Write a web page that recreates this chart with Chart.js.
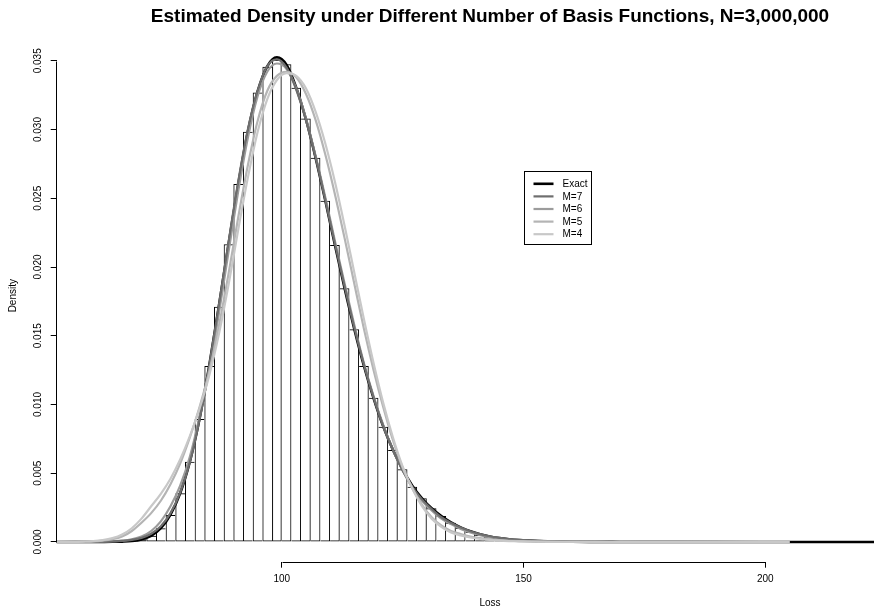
<!DOCTYPE html>
<html><head><meta charset="utf-8">
<script src="https://cdn.jsdelivr.net/npm/chart.js@4/dist/chart.umd.min.js"></script>
<style>html,body{margin:0;padding:0;background:#fff;} #wrap{width:874px;height:610px;}</style>
</head><body><div id="wrap"><canvas id="c" width="874" height="610"></canvas></div>
<script>
// ---------- data ----------
const chartTitle = 'Estimated Density under Different Number of Basis Functions, N=3,000,000';
const xTitle = 'Loss';
const yTitle = 'Density';
const xTickValues = [100, 150, 200];
const yTickValues = [0, 0.005, 0.010, 0.015, 0.020, 0.025, 0.030, 0.035];
const seriesNames = ['Exact', 'M=7', 'M=6', 'M=5', 'M=4'];

// histogram (bin width 2) : bin centres and density heights
const binCenters = [61,63,65,67,69,71,73,75,77,79,81,83,85,87,89,91,93,95,97,99,
  101,103,105,107,109,111,113,115,117,119,121,123,125,127,129,131,133,135,137,139,
  141,143,145,147,149,151,153,155,157,159,161,163,165,167,169];
const binDensity = [0.000002,0.000005,0.00001,0.00002,0.00007,0.0002,0.00045,0.00100,0.00196,0.00354,
  0.00584,0.00894,0.01280,0.01711,0.02165,0.02603,0.02984,0.03270,0.03457,0.03505,
  0.03475,0.03304,0.03081,0.02795,0.02482,0.02160,0.01845,0.01547,0.01280,0.01049,
  0.00838,0.00669,0.00529,0.00402,0.00318,0.00245,0.00189,0.00140,0.00104,0.00075,
  0.00051,0.00034,0.00022,0.00015,0.00010,0.00007,0.00005,0.00004,0.00003,0.00002,
  0.000015,0.00001,0.000008,0.000006,0.000004];

// density curves evaluated on a common loss grid
const lossGrid = [53,55,57,59,61,63,65,67,69,71,73,75,77,79,81,83,85,87,89,91,
  93,95,97,99,101,103,105,107,109,111,113,115,117,119,121,123,125,127,129,131,
  133,135,137,139,141,143,145,147,149,151,155,160,165,170,175,180,190,200,205,210,215,223];
const exactY = [0,0,0.000001,0.000002,0.000004,0.000008,0.000015,0.00003,0.00007,0.00019,
  0.00045,0.00100,0.00200,0.00355,0.00585,0.00895,0.01280,0.01715,0.02165,0.02600,
  0.02985,0.03275,0.03460,0.03525,0.03470,0.03305,0.03075,0.02795,0.02485,0.02160,
  0.01845,0.01550,0.01280,0.01045,0.00840,0.00670,0.00528,0.00410,0.00318,0.00245,
  0.00188,0.00142,0.00106,0.00078,0.00056,0.00040,0.00028,0.00020,0.00014,0.00010,
  0.00005,0.00002,0.00001,0.000005,0.000003,0.000002,0.000001,0,0,0,0,0];
const m7Y = [0,0.000001,0.000003,0.000006,0.00001,0.00002,0.00004,0.00008,0.00015,0.0003,
  0.0006,0.00115,0.0021,0.0036,0.0058,0.0089,0.0128,0.0172,0.0218,0.0262,
  0.0300,0.0328,0.0346,0.0351,0.0345,0.0329,0.0307,0.0280,0.0249,0.0217,
  0.0186,0.0156,0.0129,0.0105,0.0084,0.0067,0.0052,0.0040,0.0031,0.0024,
  0.0018,0.0014,0.00105,0.00078,0.00057,0.00042,0.0003,0.00022,0.00016,0.00012,
  0.00006,0.00003,0.000015,0.00001,0.000007,0.000005,0.000002,0.000001,0,null,null,null];
const m6Y = [0.000001,0.000002,0.000004,0.000008,0.000015,0.00003,0.00006,0.0001,0.0002,0.0004,
  0.0008,0.0015,0.0026,0.0041,0.0062,0.0091,0.0125,0.0166,0.0211,0.0255,
  0.0294,0.0324,0.0342,0.0348,0.0344,0.0330,0.0308,0.0281,0.0251,0.0219,
  0.0188,0.0158,0.0130,0.0106,0.0085,0.0067,0.0052,0.0040,0.0030,0.0023,
  0.0017,0.0013,0.00095,0.0007,0.0005,0.00036,0.00026,0.00018,0.00013,0.00009,
  0.00004,0.00002,0.00001,0.000006,0.000004,0.000003,0.000001,0,0,null,null,null];
const m5Y = [0.000002,0.000004,0.000008,0.00002,0.00004,0.0001,0.0002,0.0004,0.0008,0.0014,
  0.0021,0.0030,0.0042,0.0057,0.0076,0.0098,0.0124,0.0157,0.0195,0.0236,
  0.0274,0.0306,0.0328,0.0339,0.0342,0.0338,0.0326,0.0307,0.0282,0.0253,
  0.0221,0.0188,0.0155,0.0125,0.0098,0.0074,0.0054,0.0039,0.0027,0.0018,
  0.0012,0.0008,0.00058,0.0004,0.00028,0.00019,0.00013,0.00009,0.00006,0.00004,
  0.00002,0.00001,0.000004,0.000002,0.000001,0,0,0,0,null,null,null];
const m4Y = [0.000003,0.000006,0.00001,0.00003,0.00006,0.00013,0.00028,0.00055,0.0010,0.0017,
  0.0026,0.0035,0.0046,0.0060,0.0077,0.0097,0.0121,0.0151,0.0187,0.0227,
  0.0265,0.0298,0.0322,0.0336,0.0341,0.0339,0.0330,0.0313,0.0290,0.0262,
  0.0230,0.0196,0.0162,0.0130,0.0101,0.0076,0.0055,0.0039,0.0026,0.0017,
  0.0011,0.0007,0.00048,0.00033,0.00022,0.00015,0.0001,0.00007,0.00005,0.00003,
  0.00001,0.000005,0.000002,0.000001,0,0,0,0,0,null,null,null];

// ---------- build chart ----------
const FONT = '"Liberation Sans", Arial, Helvetica, sans-serif';
Chart.defaults.font.family = FONT;
Chart.defaults.color = '#000';

const toPts = arr => lossGrid.map((x, i) => ({x: x, y: arr[i]}));
const curveStyle = [
  {data: exactY, color: '#000000', width: 2.6, order: 6},
  {data: m7Y,    color: '#6e6e6e', width: 2.2, order: 4},
  {data: m6Y,    color: '#9c9c9c', width: 2.2, order: 5},
  {data: m5Y,    color: '#b4b4b4', width: 2.2, order: 3},
  {data: m4Y,    color: '#c8c8c8', width: 2.2, order: 2}
];
const curveSets = curveStyle.map((s, k) => ({
  type: 'line', label: seriesNames[k], data: toPts(s.data),
  borderColor: s.color, backgroundColor: s.color, borderWidth: s.width,
  pointRadius: 0, fill: false, spanGaps: false, cubicInterpolationMode: 'monotone',
  order: s.order
}));

const histSet = {
  type: 'bar', label: 'hist',
  data: binCenters.map((x, i) => ({x: x, y: binDensity[i]})),
  backgroundColor: 'rgba(255,255,255,0)', borderColor: '#000',
  borderSkipped: false, inflateAmount: 0,
  borderWidth: ctx => {
    const i = ctx.dataIndex, h = binDensity;
    const prev = i > 0 ? h[i - 1] : 0, next = i < h.length - 1 ? h[i + 1] : 0;
    return {top: 1, bottom: 1, left: h[i] >= prev ? 1 : 0, right: h[i] > next ? 1 : 0};
  },
  barPercentage: 1, categoryPercentage: 1, order: 10
};

const rStyle = {
  id: 'rStyle',
  afterDraw(chart) {
    const {ctx, scales: {x, y}} = chart;
    ctx.save();
    ctx.strokeStyle = '#000'; ctx.lineWidth = 1;
    // axis lines spanning only the tick range (R style)
    const yb = Math.round(x.top) + 0.5;
    ctx.beginPath();
    ctx.moveTo(Math.round(x.getPixelForValue(xTickValues[0])) + 0.5, yb);
    ctx.lineTo(Math.round(x.getPixelForValue(xTickValues[xTickValues.length - 1])) + 0.5, yb);
    ctx.stroke();
    const xl = Math.round(y.right) - 0.5;
    ctx.beginPath();
    ctx.moveTo(xl, Math.round(y.getPixelForValue(yTickValues[0])) + 0.5);
    ctx.lineTo(xl, Math.round(y.getPixelForValue(yTickValues[yTickValues.length - 1])) + 0.5);
    ctx.stroke();
    // legend box
    const lx = Math.round(x.getPixelForValue(150)) + 0.5;
    const ly = Math.round(y.getPixelForValue(0.027)) + 0.5;
    ctx.strokeRect(lx, ly, 67, 73);
    ctx.font = '10px ' + FONT; ctx.textAlign = 'left'; ctx.textBaseline = 'middle';
    ctx.fillStyle = '#000';
    curveSets.forEach((ds, k) => {
      const ry = ly + 12.3 + k * 12.6;
      ctx.beginPath(); ctx.strokeStyle = ds.borderColor; ctx.lineWidth = ds.borderWidth;
      ctx.moveTo(lx + 9, ry); ctx.lineTo(lx + 29, ry); ctx.stroke();
      ctx.fillText(ds.label, lx + 38, ry + 0.5);
    });
    // title and x-axis label (centred on the R plot region)
    ctx.textAlign = 'center';
    ctx.font = 'bold 19px ' + FONT;
    ctx.fillText(chartTitle, 490, 17);
    ctx.font = '10px ' + FONT;
    ctx.fillText(xTitle, 490, 603);
    ctx.restore();
  }
};

new Chart(document.getElementById('c'), {
  type: 'line',
  data: {datasets: [histSet].concat(curveSets)},
  options: {
    responsive: false, devicePixelRatio: 1, animation: false,
    layout: {padding: {top: 29.7, left: 0, right: 0, bottom: 0}},
    plugins: {legend: {display: false}, tooltip: {enabled: false}, title: {display: false}},
    scales: {
      x: {
        type: 'linear', min: 53.47, max: 222.47, offset: false,
        afterFit: s => { s.height = 48.3; },
        afterBuildTicks: s => { s.ticks = xTickValues.map(v => ({value: v})); },
        grid: {drawOnChartArea: false, drawTicks: true, tickLength: 6, color: '#000', offset: false},
        border: {display: false},
        ticks: {autoSkip: false, maxRotation: 0, padding: 6, font: {size: 10}, color: '#000',
                callback: v => String(v)}
      },
      y: {
        type: 'linear', min: -0.001433, max: 0.03726,
        afterFit: s => { s.width = 56.7; },
        afterBuildTicks: s => { s.ticks = yTickValues.map(v => ({value: v})); },
        grid: {drawOnChartArea: false, drawTicks: true, tickLength: 6, color: '#000'},
        border: {display: false},
        ticks: {autoSkip: false, minRotation: 90, maxRotation: 90, crossAlign: 'center', padding: 0,
                font: {size: 10}, color: '#000', callback: v => Number(v).toFixed(3)},
        title: {display: true, text: yTitle, font: {size: 10}, color: '#000', padding: {top: 7, bottom: 0}}
      }
    }
  },
  plugins: [rStyle]
});
</script></body></html>
